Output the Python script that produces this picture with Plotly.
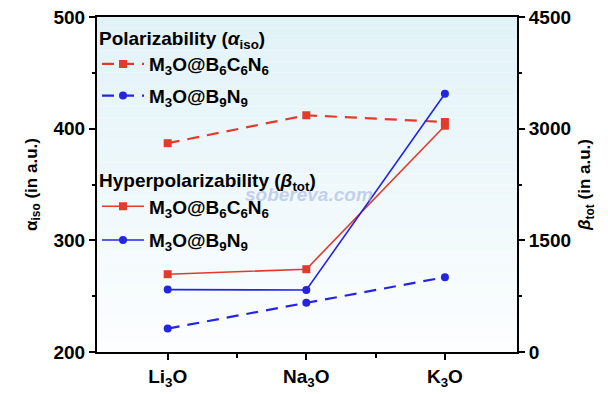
import plotly.graph_objects as go

categories = ["Li<sub>3</sub>O", "Na<sub>3</sub>O", "K<sub>3</sub>O"]

# Polarizability (left axis, a.u.)
alpha_B6C6N6 = [387, 412, 406]
alpha_B9N9 = [221, 244, 267]

# Hyperpolarizability (right axis, a.u.)
beta_B6C6N6 = [1045, 1112, 3040]
beta_B9N9 = [838, 832, 3470]

name_a = "M<sub>3</sub>O@B<sub>6</sub>C<sub>6</sub>N<sub>6</sub>"
name_b = "M<sub>3</sub>O@B<sub>9</sub>N<sub>9</sub>"

RED = "#e23b2c"
BLUE = "#2424e2"
FONT = "Liberation Sans, Arial, sans-serif"

x = [0, 1, 2]

fig = go.Figure()
fig.add_trace(go.Scatter(x=x, y=alpha_B6C6N6, name=name_a, mode="lines+markers",
                         line=dict(color=RED, width=2.2, dash="12px,8px"),
                         marker=dict(symbol="square", size=8, color=RED),
                         legend="legend", legendgroup="a1", yaxis="y"))
fig.add_trace(go.Scatter(x=x, y=alpha_B9N9, name=name_b, mode="lines+markers",
                         line=dict(color=BLUE, width=2.2, dash="12px,8px"),
                         marker=dict(symbol="circle", size=8, color=BLUE),
                         legend="legend", legendgroup="a2", yaxis="y"))
fig.add_trace(go.Scatter(x=x, y=beta_B6C6N6, name=name_a, mode="lines+markers",
                         line=dict(color=RED, width=1.6),
                         marker=dict(symbol="square", size=8, color=RED),
                         legend="legend2", legendgroup="b1", yaxis="y2"))
fig.add_trace(go.Scatter(x=x, y=beta_B9N9, name=name_b, mode="lines+markers",
                         line=dict(color=BLUE, width=1.6),
                         marker=dict(symbol="circle", size=8, color=BLUE),
                         legend="legend2", legendgroup="b2", yaxis="y2"))

# vertical gradient background (light cyan at top to white at bottom)
shapes = []
n = 30
for i in range(n):
    t = i / (n - 1)
    r = int(226 + (252 - 226) * t)
    g = int(243 + (254 - 243) * t)
    b = int(248 + (255 - 248) * t)
    shapes.append(dict(type="rect", xref="paper", yref="paper",
                       x0=0, x1=1, y1=1 - i / n, y0=1 - (i + 1) / n,
                       fillcolor=f"rgb({r},{g},{b})", line=dict(width=0), layer="below"))

axis_common = dict(showline=True, linecolor="black", linewidth=2, ticks="outside",
                   ticklen=6, tickwidth=1.5, tickcolor="black", showgrid=False, zeroline=False,
                   automargin=False,
                   tickfont=dict(family=FONT, size=19, color="black", weight="bold"))

leg_font = dict(family=FONT, size=19, color="black", weight="bold")

fig.update_layout(
    width=608, height=394,
    margin=dict(l=97, r=91, t=17, b=42, autoexpand=False),
    paper_bgcolor="white", plot_bgcolor="rgba(0,0,0,0)",
    shapes=shapes,
    font=dict(family=FONT, color="black"),
    xaxis=dict(**axis_common, range=[-0.51, 2.52], tickvals=x, ticktext=categories,
               mirror=True,
               minor=dict(tickvals=[0.5, 1.5], ticks="outside", ticklen=4, tickcolor="black", tickwidth=1.5)),
    yaxis=dict(**axis_common, range=[200, 500], tickvals=[200, 300, 400, 500],
               minor=dict(tickvals=[250, 350, 450], ticks="outside", ticklen=3, tickcolor="black", tickwidth=1.5),
               title=dict(text="α<sub>iso</sub> (in a.u.)", standoff=12,
                          font=dict(family=FONT, size=17, color="black", weight="bold"))),
    yaxis2=dict(**axis_common, range=[0, 4500], tickvals=[0, 1500, 3000, 4500],
                overlaying="y", side="right",
                minor=dict(tickvals=[750, 2250, 3750], ticks="outside", ticklen=3, tickcolor="black", tickwidth=1.5),
                title=dict(text="<i>β</i><sub>tot</sub> (in a.u.)", standoff=8,
                           font=dict(family=FONT, size=17, color="black", weight="bold"))),
    legend=dict(x=0.0, y=0.99, xanchor="left", yanchor="top", bgcolor="rgba(0,0,0,0)",
                traceorder="grouped", tracegroupgap=4, itemwidth=42,
                title=dict(text="Polarizability (<i>α</i><sub>iso</sub>)", font=leg_font),
                font=leg_font),
    legend2=dict(x=0.0, y=0.565, xanchor="left", yanchor="top", bgcolor="rgba(0,0,0,0)",
                 traceorder="grouped", tracegroupgap=6, itemwidth=42,
                 title=dict(text="Hyperpolarizability (<i>β</i><sub>tot</sub>)", font=leg_font),
                 font=leg_font),
    annotations=[dict(text="<i>sobereva.com</i>", xref="paper", yref="paper", x=0.505, y=0.47,
                      showarrow=False,
                      font=dict(family=FONT, size=19, color="rgba(150,165,220,0.5)", weight="bold"))],
)

# remove the browser's default 8px body margin so the figure fills the window exactly
fig.write_html("out.html", config={"displayModeBar": False},
               post_script="document.body.style.margin='0';")
